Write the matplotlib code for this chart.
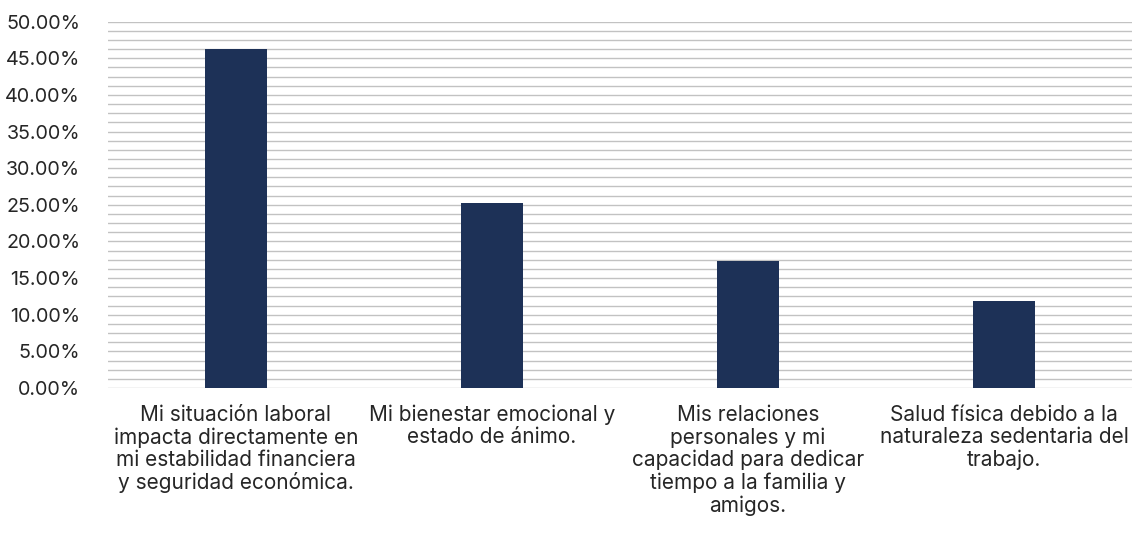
import matplotlib.pyplot as plt
from matplotlib.ticker import MultipleLocator, FuncFormatter

categories = [
    "Mi situación laboral\nimpacta directamente en\nmi estabilidad financiera\ny seguridad económica.",
    "Mi bienestar emocional y\nestado de ánimo.",
    "Mis relaciones\npersonales y mi\ncapacidad para dedicar\ntiempo a la familia y\namigos.",
    "Salud física debido a la\nnaturaleza sedentaria del\ntrabajo.",
]
values = [46.2, 25.2, 17.3, 11.9]

plt.rcParams['font.family'] = ['Inter', 'DejaVu Sans']
text_color = '#262626'

fig = plt.figure(figsize=(11.39, 5.39), dpi=100)
ax = fig.add_axes([0.0948, 0.280, 0.899, 0.680])

x = range(len(categories))
ax.bar(x, values, width=0.24, color='#1d3157', zorder=3)

ax.set_xlim(-0.5, len(categories) - 0.5)
ax.set_ylim(0, 50)
ax.yaxis.set_major_locator(MultipleLocator(5))
ax.yaxis.set_minor_locator(MultipleLocator(1.25))
ax.yaxis.set_major_formatter(FuncFormatter(lambda v, p: f"{v:.2f}%"))

ax.grid(axis='y', which='both', color='#c2c2c2', linewidth=1.0, zorder=0)
for s in ax.spines.values():
    s.set_visible(False)

ax.set_xticks(list(x))
ax.set_xticklabels(categories, fontsize=15, color=text_color, linespacing=1.14)
ax.tick_params(axis='x', length=0, pad=12)
ax.tick_params(axis='y', which='both', length=0, pad=20, labelsize=14.2, labelcolor=text_color)

fig.savefig('out.png', dpi=100)
